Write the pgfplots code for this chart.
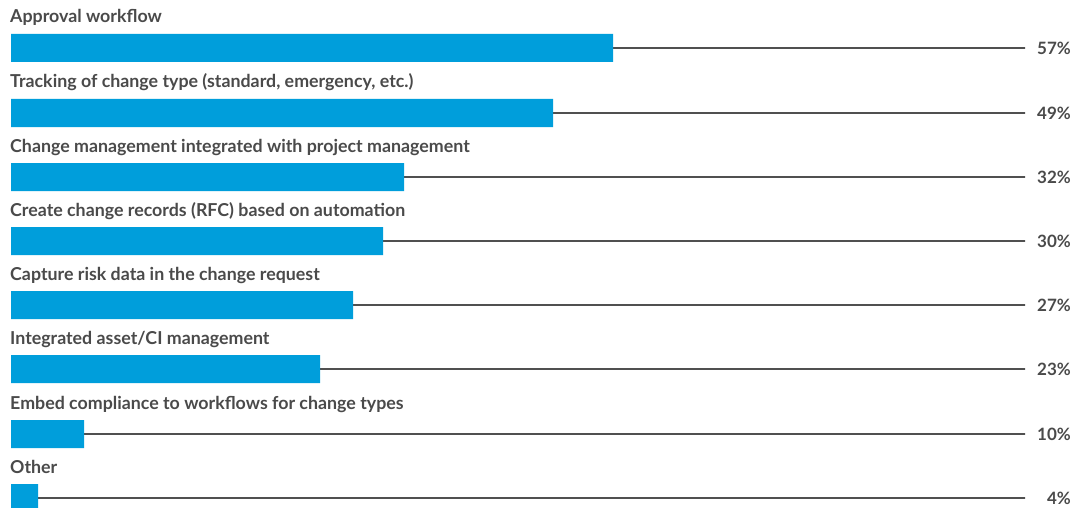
\documentclass[border=0pt]{standalone}
\usepackage{pgfplots}
\usepackage{pgfplotstable}
\pgfplotsset{compat=1.18}
\usepackage{fontspec}
\setmainfont{Lato}
\definecolor{barblue}{HTML}{009EDB}
\definecolor{txtgray}{HTML}{4A4A4A}
\definecolor{linegray}{HTML}{505050}

\pgfplotstableread[col sep=semicolon]{
y;len;lineend;pctx;pct;lx;ly;label
48;602;1014;1060;57;-1;23;Approval workflow
113;542;1014;1060;49;-1;88;Tracking of change type (standard, emergency, etc.)
177;393;1014;1060;32;-1;152;Change management integrated with project management
241;372;1014;1060;30;-1;216;Create change records (RFC) based on automation
305;342;1014;1060;27;-1;280;Capture risk data in the change request
369;309;1014;1060;23;-1;344;Integrated asset/CI management
434;73;1014;1060;10;-1;409;Embed compliance to workflows for change types
498;27;1014;1060;4;-1;473;Other
}\datatable

\begin{document}
\begin{tikzpicture}
\begin{axis}[
  scale only axis,
  width=1075pt, height=508pt,
  xmin=-11, xmax=1064,
  ymin=0, ymax=508,
  y dir=reverse,
  axis lines=none,
  clip=false,
  ticks=none,
]
% thin gray guide lines
\addplot[xbar, bar shift=0pt, bar width=0pt, draw=linegray, line width=1.1pt, fill=none]
  table[x=lineend, y=y] {\datatable};
% bars
\addplot[xbar, bar shift=0pt, bar width=28pt, fill=barblue, draw=none]
  table[x=len, y=y] {\datatable};
% category labels
\addplot[draw=none, mark=none, point meta=explicit symbolic,
  nodes near coords,
  nodes near coords style={anchor=base west, inner sep=0pt, text=txtgray,
    font=\fontsize{17.8}{20}\selectfont\bfseries}]
  table[x=lx, y=ly, meta=label] {\datatable};
% percentage labels
\addplot[draw=none, mark=none, point meta=explicit symbolic,
  nodes near coords={\pgfplotspointmeta\%},
  nodes near coords style={anchor=east, inner sep=0pt, text=txtgray,
    font=\fontsize{17}{20}\selectfont\bfseries}]
  table[x=pctx, y=y, meta=pct] {\datatable};
\end{axis}
\pgfresetboundingbox
\useasboundingbox (current axis.south west) rectangle (current axis.north east);
\end{tikzpicture}
\end{document}
